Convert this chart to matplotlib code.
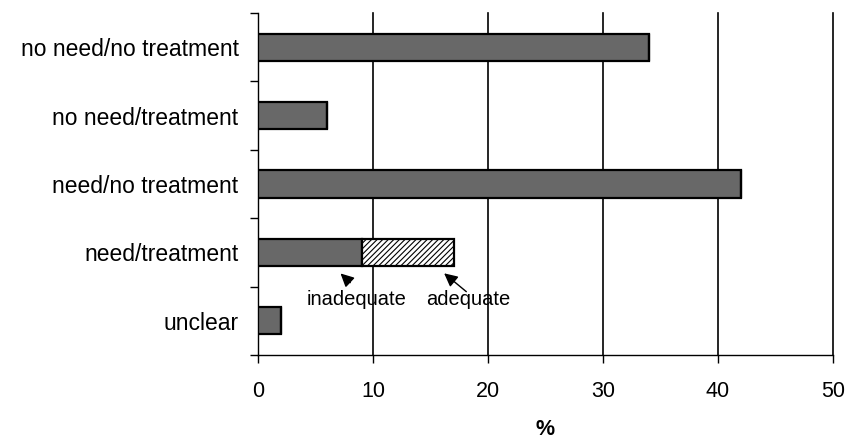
import matplotlib
matplotlib.use("Agg")
import matplotlib.pyplot as plt
import numpy as np

categories = ["no need/no treatment", "no need/treatment", "need/no treatment",
              "need/treatment", "unclear"]
values_main = [34, 6, 42, 9, 2]
values_adequate = [0, 0, 0, 8, 0]
x_ticks = [0, 10, 20, 30, 40, 50]

plt.rcParams['font.family'] = ['Liberation Sans', 'DejaVu Sans']
plt.rcParams['hatch.linewidth'] = 0.8

fig = plt.figure(figsize=(8.49, 4.42), dpi=100)
ax = fig.add_axes([258/849, 1-355/442, (833-258)/849, (355-13)/442])

y = np.arange(len(categories))
bar_h = 0.4
ax.barh(y, values_main, height=bar_h, color="#686868", edgecolor="black", linewidth=1.6, zorder=3)
ax.barh(y, values_adequate, left=values_main, height=bar_h, color="white",
        edgecolor="black", linewidth=1.6, hatch="//////", zorder=3)

ax.set_xlim(0, 50)
ax.set_ylim(len(categories) - 0.5, -0.5)
ax.set_xticks(x_ticks)
ax.set_xticklabels([str(t) for t in x_ticks], fontsize=15.5)
ax.set_yticks(y)
ax.set_yticklabels(categories, fontsize=16.5)
ax.tick_params(axis='y', which='major', length=0, pad=14)
ax.set_yticks(np.arange(-0.5, len(categories)), minor=True)
ax.tick_params(axis='y', which='minor', length=6, width=1)
ax.tick_params(axis='x', which='major', length=6, width=1, direction='out', pad=13)

for t in x_ticks[1:]:
    ax.axvline(t, color="black", linewidth=1.2, zorder=1, clip_on=False)

for s in ["top", "right"]:
    ax.spines[s].set_visible(False)
ax.spines["left"].set_linewidth(1.0)
ax.spines["bottom"].set_linewidth(1.0)

ax.set_xlabel("%", fontsize=15.5, fontweight="bold", labelpad=12)

# annotations
ax.annotate("", xy=(7.0, 3.28), xytext=(8.2, 3.47),
            arrowprops=dict(arrowstyle="-|>,head_length=0.8,head_width=0.4", color="black", lw=1),
            zorder=4)
ax.text(8.6, 3.69, "inadequate", fontsize=14.5, ha="center", va="center", zorder=4)
ax.annotate("", xy=(16.0, 3.28), xytext=(18.3, 3.6),
            arrowprops=dict(arrowstyle="-|>,head_length=0.8,head_width=0.4", color="black", lw=1),
            zorder=4)
ax.text(18.3, 3.69, "adequate", fontsize=14.5, ha="center", va="center", zorder=4)

fig.savefig("out.png", dpi=100)
